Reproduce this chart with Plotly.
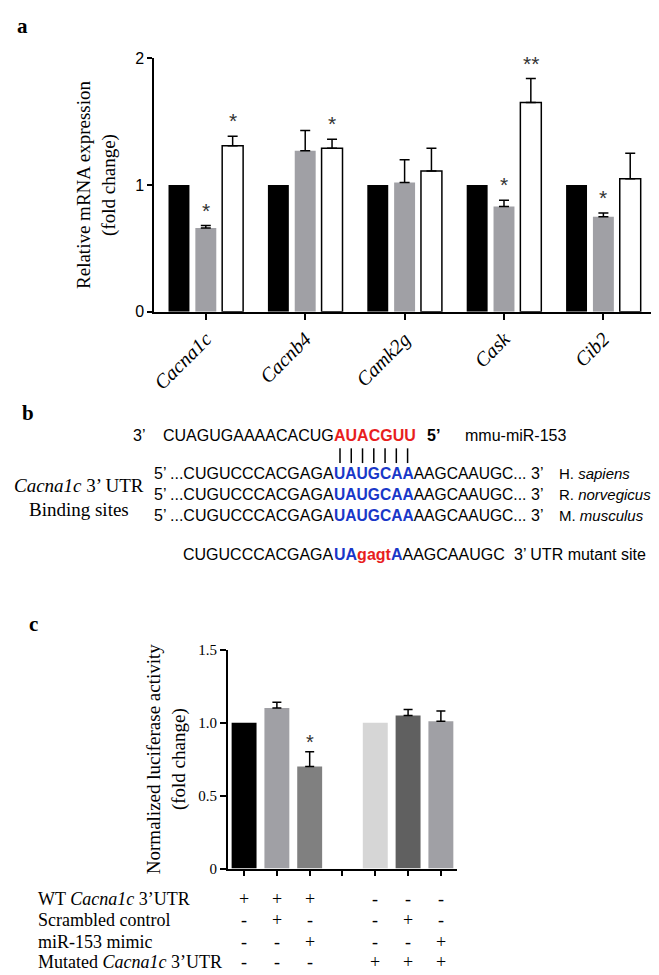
import plotly.graph_objects as go

W, H = 659, 975

# ---------------- data ----------------
genes = ["Cacna1c", "Cacnb4", "Camk2g", "Cask", "Cib2"]
ctrl_vals = [1.0, 1.0, 1.0, 1.0, 1.0]
gray_vals = [0.66, 1.27, 1.02, 0.83, 0.75]
gray_err = [0.02, 0.16, 0.18, 0.05, 0.03]
white_vals = [1.31, 1.29, 1.11, 1.65, 1.05]
white_err = [0.075, 0.07, 0.18, 0.19, 0.20]
# significance marks: (gene, series index 1=gray 2=white, label)
sig_marks = [("Cacna1c", 1, "*"), ("Cacna1c", 2, "*"), ("Cacnb4", 2, "*"),
             ("Cask", 1, "*"), ("Cask", 2, "**"), ("Cib2", 1, "*")]

# luciferase assay (position 3 is an empty spacer)
luc_ref_pos = [0, 4]
luc_ref_vals = [1.0, 1.0]
luc_ref_colors = ["#000000", "#d6d6d6"]
luc_pos = [1, 2, 5, 6]
luc_vals = [1.10, 0.70, 1.05, 1.01]
luc_err = [0.04, 0.10, 0.04, 0.07]
luc_colors = ["#a0a0a5", "#808080", "#606060", "#a0a0a5"]
luc_sig = [(2, "*")]
luc_ticks = [0, 1, 2, 3, 4, 5, 6]
luc_yticks = [0, 0.5, 1.0, 1.5]
luc_yticktext = ["0", "0.5", "1.0", "1.5"]

table_rows = ["WT <i>Cacna1c</i> 3\u2019UTR", "Scrambled control", "miR-153 mimic",
              "Mutated <i>Cacna1c</i> 3\u2019UTR"]
table_signs = [["+", "+", "+", "", "-", "-", "-"],
               ["-", "+", "-", "", "-", "+", "-"],
               ["-", "-", "+", "", "-", "-", "+"],
               ["-", "-", "-", "", "+", "+", "+"]]

RED = "rgb(232,30,30)"
BLUE = "rgb(25,55,200)"
mirna_left = "CUAGUGAAAACACUG"
mirna_seed = "AUACGUU"
target_left = "...CUGUCCCACGAGA"
target_seed = "UAUGCAA"
target_right = "AAGCAAUGC..."
species = ["H. <i>sapiens</i>", "R. <i>norvegicus</i>", "M. <i>musculus</i>"]
mutant_left = "CUGUCCCACGAGA"
mutant_right = ("<span style='color:%s'><b>UA</b></span><span style='color:%s'><b>gagt</b></span>"
                "<span style='color:%s'><b>A</b></span>AAGCAAUGC") % (BLUE, RED, BLUE)

SERIF = "Liberation Serif"
SANS = "Liberation Sans"


def X(px):
    return px / W


def Y(py):
    return 1 - py / H


fig = go.Figure()

# ---------------- panel a ----------------
fig.add_trace(go.Bar(x=genes, y=ctrl_vals, name="Control",
                     marker=dict(color="#000000", line=dict(width=0)),
                     xaxis="x", yaxis="y", showlegend=False))
fig.add_trace(go.Bar(x=genes, y=gray_vals, name="Group 2",
                     marker=dict(color="#a0a0a5", line=dict(width=0)),
                     error_y=dict(type="data", array=gray_err, arrayminus=[0] * 5,
                                  symmetric=False, color="#000", thickness=1.5, width=5),
                     xaxis="x", yaxis="y", showlegend=False))
fig.add_trace(go.Bar(x=genes, y=white_vals, name="Group 3",
                     marker=dict(color="#ffffff", line=dict(width=1.5, color="#000")),
                     error_y=dict(type="data", array=white_err, arrayminus=[0] * 5,
                                  symmetric=False, color="#000", thickness=1.5, width=5),
                     xaxis="x", yaxis="y", showlegend=False))

series_vals = [ctrl_vals, gray_vals, white_vals]
series_err = [[0] * 5, gray_err, white_err]
annotations = []
for g, s, lab in sig_marks:
    i = genes.index(g)
    annotations.append(dict(x=g, y=series_vals[s][i] + series_err[s][i], xref="x", yref="y",
                            text=lab, showarrow=False, xanchor="center", yanchor="bottom",
                            xshift=(s - 1) * 27, yshift=2,
                            font=dict(family=SANS, size=21, color="#333")))

# ---------------- panel c ----------------
fig.add_trace(go.Bar(x=luc_ref_pos, y=luc_ref_vals, width=0.76, offset=-0.38, name="Reference",
                     marker=dict(color=luc_ref_colors, line=dict(width=0)),
                     xaxis="x2", yaxis="y2", showlegend=False))
fig.add_trace(go.Bar(x=luc_pos, y=luc_vals, width=0.76, offset=-0.38, name="Luciferase",
                     marker=dict(color=luc_colors, line=dict(width=0)),
                     error_y=dict(type="data", array=luc_err, arrayminus=[0] * 4,
                                  symmetric=False, color="#000", thickness=1.5, width=4.5),
                     xaxis="x2", yaxis="y2", showlegend=False))
for p, lab in luc_sig:
    k = luc_pos.index(p)
    annotations.append(dict(x=p, y=luc_vals[k] + luc_err[k], xref="x2", yref="y2",
                            text=lab, showarrow=False, xanchor="center", yanchor="bottom",
                            yshift=-3, font=dict(family=SANS, size=20, color="#333")))

row_y = [899, 920, 942, 963]
for r, lab in enumerate(table_rows):
    annotations.append(dict(x=X(24), y=Y(row_y[r]), xref="paper", yref="paper", text=lab,
                            showarrow=False, xanchor="left", yanchor="middle",
                            font=dict(family=SERIF, size=18, color="#000")))
    for c, sgn in enumerate(table_signs[r]):
        if sgn:
            annotations.append(dict(x=luc_ticks[c], y=Y(row_y[r]), xref="x2", yref="paper",
                                    text=sgn, showarrow=False, xanchor="center", yanchor="middle",
                                    font=dict(family=SERIF, size=18, color="#000")))

# ---------------- panel labels ----------------
for lab, px, py in [("a", 3, 10), ("b", 8, 404), ("c", 15, 619)]:
    annotations.append(dict(x=X(px), y=Y(py), xref="paper", yref="paper", text="<b>%s</b>" % lab,
                            showarrow=False, xanchor="left", yanchor="middle",
                            font=dict(family=SERIF, size=21, color="#000")))


# ---------------- panel b (sequence alignment) ----------------
def seq_text(px, py, txt, size=16, fam=SANS, anchor="left"):
    annotations.append(dict(x=X(px), y=Y(py), xref="paper", yref="paper", text=txt,
                            showarrow=False, xanchor=anchor, yanchor="middle",
                            borderpad=0, borderwidth=0,
                            font=dict(family=fam, size=size, color="#000")))


SEED_X = 324
seq_text(122, 427, "3\u2019")
seq_text(SEED_X, 427, mirna_left, anchor="right")
seq_text(SEED_X, 427, "<span style='color:%s'><b>%s</b></span>" % (RED, mirna_seed))
seq_text(418, 427, "<b>5\u2019</b>")
seq_text(456, 427, "mmu-miR-153")
for k, py in enumerate([466, 487, 508]):
    seq_text(143, py, "5\u2019")
    seq_text(SEED_X, py, target_left, anchor="right")
    seq_text(SEED_X, py, "<span style='color:%s'><b>%s</b></span>%s" % (BLUE, target_seed, target_right),
             size=15.6)
    seq_text(522, py, "3\u2019")
    seq_text(550, py, species[k], size=15)
seq_text(SEED_X, 548, mutant_left, anchor="right")
seq_text(SEED_X, 548, mutant_right)
seq_text(505, 548, "3\u2019 UTR mutant site")
seq_text(67, 478, "<i>Cacna1c</i> 3\u2019 UTR", size=19, fam=SERIF, anchor="center")
seq_text(67, 502, "Binding sites", size=19, fam=SERIF, anchor="center")

shapes = []
for k in range(7):
    xp = 330 + k * (398 - 330) / 6
    shapes.append(dict(type="line", xref="paper", yref="paper", x0=X(xp), x1=X(xp),
                       y0=Y(440), y1=Y(455), line=dict(color="#000", width=1.5)))

fig.update_layout(
    width=W, height=H, margin=dict(l=0, r=0, t=0, b=0),
    paper_bgcolor="white", plot_bgcolor="white",
    barmode="group", bargap=0.19, bargroupgap=0.22,
    annotations=annotations, shapes=shapes,
    xaxis=dict(domain=[X(143), X(647)], anchor="y", type="category", range=[-0.52, 4.52],
               showline=True, linecolor="#000", linewidth=1.5, ticks="outside", ticklen=6,
               tickwidth=1.5, tickcolor="#000", tickangle=-45, showgrid=False,
               tickfont=dict(family=SERIF, size=20, color="#000", style="italic")),
    yaxis=dict(domain=[Y(301), Y(43)], anchor="x", range=[0, 2], tickvals=[0, 1, 2],
               showline=True, linecolor="#000", linewidth=1.5, ticks="outside", ticklen=5,
               tickwidth=1.5, tickcolor="#000", showgrid=False, zeroline=False,
               tickfont=dict(family=SANS, size=16, color="#000"),
               title=dict(text="Relative mRNA expression<br>(fold change)", standoff=15,
                          font=dict(family=SERIF, size=19, color="#000"))),
    xaxis2=dict(domain=[X(217), X(448)], anchor="y2", range=[-0.5, 6.5], tickvals=luc_ticks,
                ticktext=[""] * 7, showline=True, linecolor="#000", linewidth=1.5,
                ticks="outside", ticklen=6, tickwidth=1.5, tickcolor="#000", showgrid=False,
                zeroline=False),
    yaxis2=dict(domain=[Y(867.7), Y(645)], anchor="x2", range=[0, 1.5], tickvals=luc_yticks,
                ticktext=luc_yticktext, showline=True, linecolor="#000", linewidth=1.5,
                ticks="outside", ticklen=6, tickwidth=1.5, tickcolor="#000", showgrid=False,
                zeroline=False, tickfont=dict(family=SERIF, size=15, color="#000"),
                title=dict(text="Normalized luciferase activity<br>(fold change)", standoff=8,
                           font=dict(family=SERIF, size=19, color="#000"))),
)

fig.write_html("out.html")
